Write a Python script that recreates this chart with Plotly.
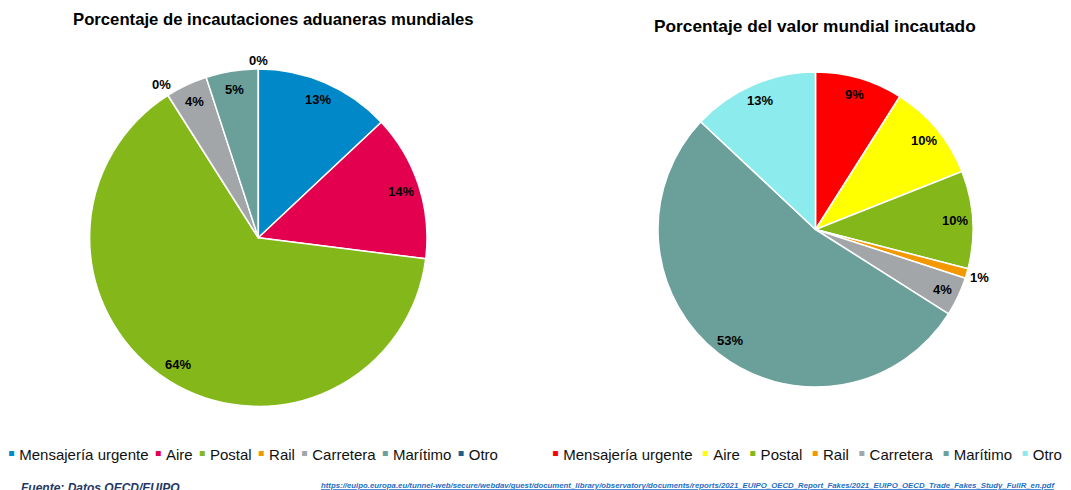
import math
import plotly.graph_objects as go

W, H = 1071, 490
FONT = "Liberation Sans, Arial, sans-serif"

# ---------------- data ----------------
categories = ["Mensajería urgente", "Aire", "Postal", "Rail", "Carretera", "Marítimo", "Otro"]

# Left pie: share of worldwide customs seizures (%)
seizures_pct = [13, 14, 64, 0, 4, 5, 0]
colors_left = ["#0088C9", "#E2004F", "#84B81A", "#F39800", "#A3A6A9", "#6A9F9A", "#1B5E8C"]

# Right pie: share of worldwide seized value (%)
value_pct = [9, 10, 10, 1, 4, 53, 13]
colors_right = ["#FF0000", "#FFFF00", "#84B81A", "#F39800", "#A3A6A9", "#6A9F9A", "#8CEBED"]

title_left = "Porcentaje de incautaciones aduaneras mundiales"
title_right = "Porcentaje del valor mundial incautado"
source_text = "Fuente: Datos OECD/EUIPO"
source_url = ("https://euipo.europa.eu/tunnel-web/secure/webdav/guest/document_library/observatory/"
              "documents/reports/2021_EUIPO_OECD_Report_Fakes/2021_EUIPO_OECD_Trade_Fakes_Study_FullR_en.pdf")

# ---------------- layout geometry (pixels) ----------------
LEFT = dict(cx=258.3, cy=237.7, r=168.7)
RIGHT = dict(cx=815.5, cy=229.5, r=157.5)


def domain(g):
    return dict(x=[(g["cx"] - g["r"]) / W, (g["cx"] + g["r"]) / W],
                y=[1 - (g["cy"] + g["r"]) / H, 1 - (g["cy"] - g["r"]) / H])


def pie(values, colors, g):
    return go.Pie(labels=categories, values=values, sort=False, direction="clockwise", rotation=0,
                  marker=dict(colors=colors, line=dict(color="white", width=1.5)),
                  textinfo="none", showlegend=False, domain=domain(g),
                  hovertemplate="%{label}: %{percent}<extra></extra>")


def slice_labels(values, g):
    total = sum(values)
    anns, cum = [], 0.0
    for v in values:
        frac = v / total
        mid = cum + frac / 2
        cum += frac
        th = 2 * math.pi * mid
        s, c = math.sin(th), math.cos(th)
        text = f"{round(100 * frac)}%"
        if v >= 2:
            d = 0.89 * g["r"]
        else:
            w, h = 9.0 * len(text), 13.0
            d = g["r"] + 2.5 + abs(s) * w / 2 + abs(c) * h / 2
        x = g["cx"] + d * s
        y = g["cy"] - d * c
        anns.append(dict(x=x / W, y=1 - y / H, xref="paper", yref="paper", text=f"<b>{text}</b>",
                         showarrow=False, xanchor="center", yanchor="middle",
                         font=dict(family=FONT, size=13, color="#000000")))
    return anns


def legend_text(cats, cols, gap_size):
    parts = [f'<span style="color:{c};font-size:20px">\u25aa</span>\u00a0{lab}' for lab, c in zip(cats, cols)]
    spacer = f'<span style="font-size:{gap_size}px">\u00a0\u00a0</span>'
    return spacer.join(parts)


fig = go.Figure()
fig.add_trace(pie(seizures_pct, colors_left, LEFT))
fig.add_trace(pie(value_pct, colors_right, RIGHT))

annotations = []
annotations += slice_labels(seizures_pct, LEFT)
annotations += slice_labels(value_pct, RIGHT)

annotations.append(dict(x=273 / W, y=1 - 19.5 / H, xref="paper", yref="paper", text=f"<b>{title_left}</b>",
                        showarrow=False, xanchor="center", yanchor="middle",
                        font=dict(family=FONT, size=16.7, color="#000000")))
annotations.append(dict(x=815 / W, y=1 - 26.5 / H, xref="paper", yref="paper", text=f"<b>{title_right}</b>",
                        showarrow=False, xanchor="center", yanchor="middle",
                        font=dict(family=FONT, size=17.3, color="#000000")))

annotations.append(dict(x=6 / W, y=1 - 453 / H, xref="paper", yref="paper",
                        text=legend_text(categories, colors_left, 11), showarrow=False,
                        xanchor="left", yanchor="middle", font=dict(family=FONT, size=15, color="#111111")))
annotations.append(dict(x=550 / W, y=1 - 453 / H, xref="paper", yref="paper",
                        text=legend_text(categories, colors_right, 17), showarrow=False,
                        xanchor="left", yanchor="middle", font=dict(family=FONT, size=15, color="#111111")))

annotations.append(dict(x=19 / W, y=1 - 488 / H, xref="paper", yref="paper",
                        text=f"<b><i>{source_text}</i></b>", showarrow=False,
                        xanchor="left", yanchor="middle", font=dict(family=FONT, size=12, color="#1F3864")))
annotations.append(dict(x=319 / W, y=1 - 485.5 / H, xref="paper", yref="paper",
                        text=f"<b><i><u>{source_url}</u></i></b>", showarrow=False,
                        xanchor="left", yanchor="middle", font=dict(family=FONT, size=7.8, color="#1F6FC5")))

fig.update_layout(width=W, height=H, margin=dict(l=0, r=0, t=0, b=0),
                  paper_bgcolor="white", plot_bgcolor="white",
                  annotations=annotations, showlegend=False)

fig.write_html("out.html", config={"displayModeBar": False},
               post_script="document.body.style.margin='0px';document.body.style.overflow='hidden';")
